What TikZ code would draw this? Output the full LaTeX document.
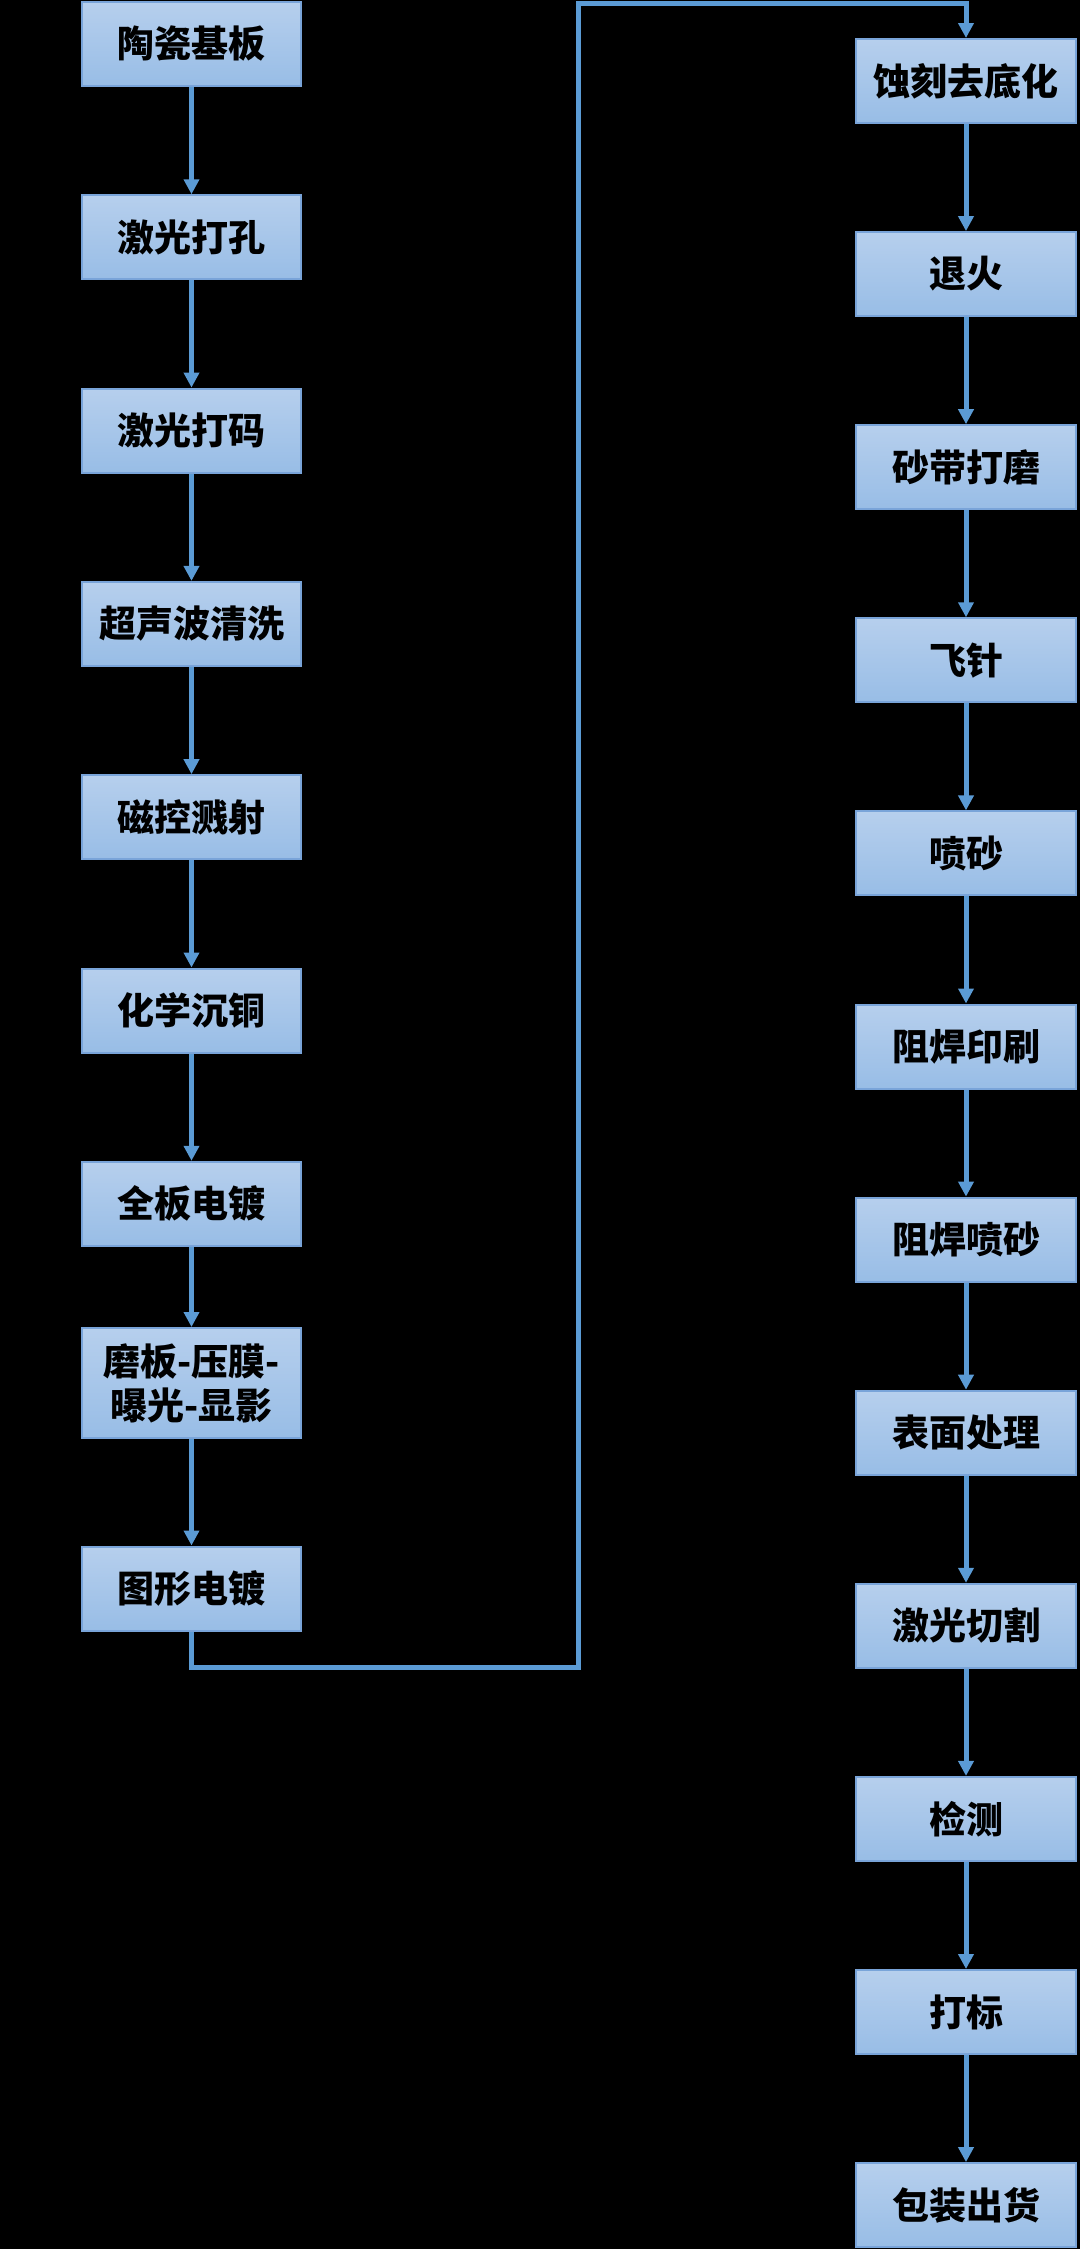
\documentclass[tikz,border=0pt]{standalone}
\usepackage{fontspec}
\usetikzlibrary{arrows.meta}
\newfontfamily\cjk{Noto Sans CJK SC}
\definecolor{flowline}{HTML}{5B9BD5}
\definecolor{boxtop}{HTML}{B6CFED}
\definecolor{boxbot}{HTML}{98BDE6}
\definecolor{boxedge}{HTML}{79A4D9}

\begin{document}
\begin{tikzpicture}[x=1pt, y=-1pt,
	stage/.style={draw=boxedge, line width=2pt, top color=boxtop, bottom color=boxbot,
		minimum width=219pt, minimum height=84pt, inner sep=0pt, align=center,
		font=\cjk\bfseries\fontsize{37}{44}\selectfont},
	flow/.style={flowline, line width=5pt, -{Triangle[width=15pt,length=15pt]}}]
	% background
	\fill[black] (0,0) rectangle (1080,2249);
	\useasboundingbox (0,0) rectangle (1080,2249);
	% left column
	\foreach \name [count=\i from 0] in {陶瓷基板,激光打孔,激光打码,超声波清洗,磁控溅射,化学沉铜,全板电镀}{
		\node[stage] (l\i) at (191.5, 44+193.3*\i) {\name};
	}
	\node[stage, minimum height=110pt] (l7) at (191.5,1383) {磨板-压膜-\\曝光-显影};
	\node[stage] (l8) at (191.5,1588.5) {图形电镀};
	% right column
	\foreach \name [count=\i from 0] in {蚀刻去底化,退火,砂带打磨,飞针,喷砂,阻焊印刷,阻焊喷砂,表面处理,激光切割,检测,打标,包装出货}{
		\node[stage, minimum width=220pt] (r\i) at (966, 81+193.1*\i) {\name};
	}
	\foreach \i [evaluate=\i as \j using int(\i+1)] in {0,...,7}{
		\draw[flow] (l\i) -- (l\j);
	}
	\foreach \i [evaluate=\i as \j using int(\i+1)] in {0,...,10}{
		\draw[flow] (r\i) -- (r\j);
	}
	% jump to the second column
	\coordinate (bendlow) at (578,1667);
	\coordinate (bendtop) at (578,3);
	\draw[flow] (l8) |- (bendlow) -- (bendtop) -| (r0);
\end{tikzpicture}
\end{document}
